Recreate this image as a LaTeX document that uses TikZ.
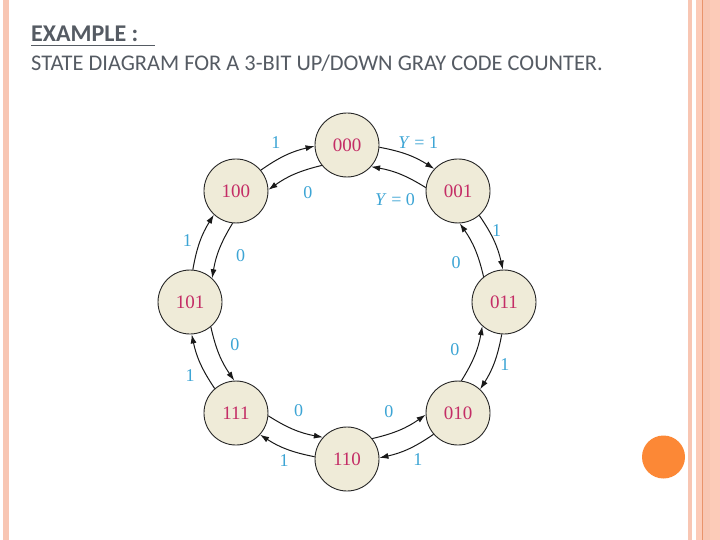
\documentclass[tikz,border=0pt]{standalone}
\usepackage{fontspec}
\setmainfont{Liberation Serif}
\newfontfamily\titlefont{Carlito}
\usetikzlibrary{arrows.meta}

\definecolor{pinkb}{HTML}{F8C6B3}
\definecolor{pinkl}{HTML}{FCCBB8}
\definecolor{pinkd}{HTML}{E9946C}
\definecolor{statefill}{HTML}{EFEBD8}
\definecolor{statetext}{HTML}{C42D66}
\definecolor{lblcol}{HTML}{3DA5D5}
\definecolor{titlecol}{HTML}{555B63}
\definecolor{dotorange}{HTML}{FC8836}

\begin{document}
\begin{tikzpicture}[x=1pt,y=1pt,
  state/.style={circle, draw=black!85, line width=0.9pt, fill=statefill,
    minimum size=64pt, inner sep=0pt, text=statetext,
    font=\fontsize{19}{19}\selectfont},
  lbl/.style={text=lblcol, font=\fontsize{18}{18}\selectfont, inner sep=0pt},
  arr/.style={-{Latex[length=9pt,width=6pt]}, line width=1pt, draw=black!90},
  ttl/.style={text=titlecol, inner sep=0pt, anchor=base west}]
\useasboundingbox (0,0) rectangle (720,-540);
\fill[white] (0,0) rectangle (720,-540);
% page decoration
\fill[pinkb] (2.7,0) rectangle (8.7,-540);
\fill[pinkb] (688,0) rectangle (692,-540);
\fill[pinkl] (696,0) rectangle (720,-540);
\fill[pinkb] (703,0) rectangle (710,-540);
\fill[pinkd] (701.8,0) rectangle (702.8,-540);
\fill[dotorange] (663.5,-457) circle (21.5);
% titles
\node[ttl, font=\titlefont\bfseries\fontsize{24}{24}\selectfont] (t1) at (31,-42) {EXAMPLE :};
\draw[titlecol, line width=1.4pt] (31,-45.5) -- (155,-45.5);
\node[ttl, font=\titlefont\fontsize{22.4}{22.4}\selectfont] (t2) at (31,-71)
  {STATE DIAGRAM FOR A 3-BIT UP/DOWN GRAY CODE COUNTER.};
% states
\begin{scope}[shift={(347,-302)}]
\node[state] (n000) at (90:157) {000};
\node[state] (n001) at (45:157) {001};
\node[state] (n011) at (0:157) {011};
\node[state] (n010) at (-45:157) {010};
\node[state] (n110) at (-90:157) {110};
\node[state] (n111) at (-135:157) {111};
\node[state] (n101) at (180:157) {101};
\node[state] (n100) at (135:157) {100};
% connectors
\foreach \a/\b/\t in {n000/n001/90, n001/n011/45, n011/n010/0, n010/n110/-45,
                      n110/n111/-90, n111/n101/-135, n101/n100/180, n100/n000/135}{
  \pgfmathsetmacro\sa{\t-112.5+18}
  \pgfmathsetmacro\ea{\t-112.5+160}
  \pgfmathsetmacro\sb{\t-112.5+197}
  \pgfmathsetmacro\eb{\t-112.5-20}
  \draw[arr] (\a.\sa) to[bend left=11] (\b.\ea);
  \draw[arr] (\b.\sb) to[bend right=11] (\a.\eb);
}
% labels
\foreach \p/\r/\s [count=\i] in {114/175/1, 66/175/{\textit{Y} = 1}, 25.6/166/1, -21.7/170/1,
    -65.8/173/1, -111.6/171/1, -155/173/1, 159/171/1,
    109.7/116/0, 64.8/113/{\textit{Y} = 0}, 20/116/0, -24/118/0,
    -69/117/0, -114/119/0, -159/120/0, 156.5/116/0}{
  \node[lbl] (l\i) at (\p:\r) {\s};
}
\end{scope}
\end{tikzpicture}
\end{document}
